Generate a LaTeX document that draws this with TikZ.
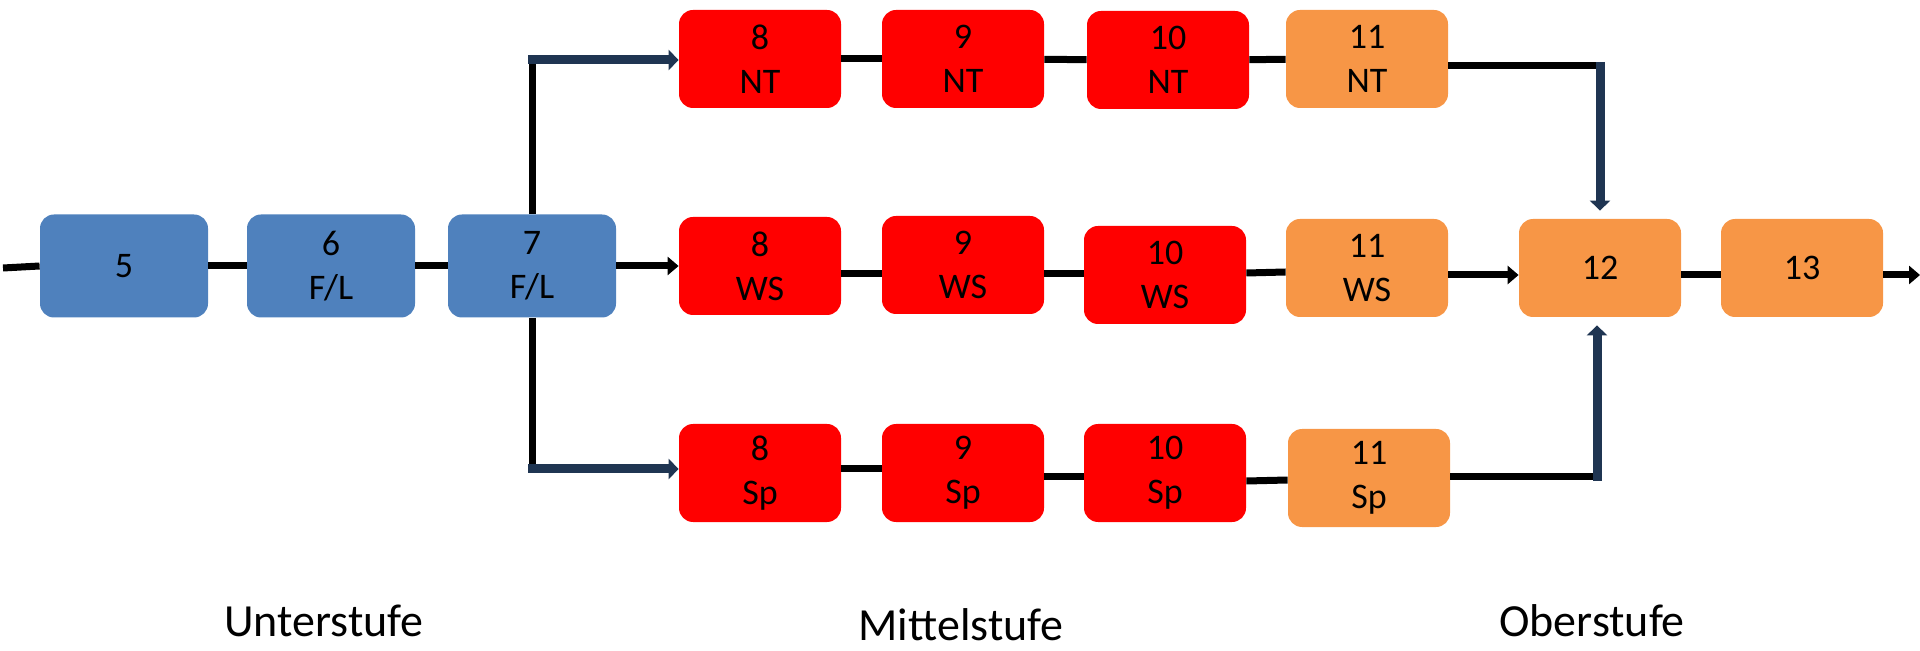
\documentclass[tikz,border=0pt]{standalone}
\usepackage{fontspec}
\setmainfont{Carlito}
\usetikzlibrary{arrows.meta,calc}
\definecolor{boxblue}{HTML}{4F81BD}
\definecolor{boxred}{HTML}{FF0000}
\definecolor{boxorange}{HTML}{F79646}
\definecolor{arrowblue}{HTML}{1F3552}
\tikzset{
  stagebox/.style={rounded corners=7pt, inner sep=0pt, align=center,
    minimum width=81pt, minimum height=49pt,
    font=\fontsize{18}{22}\selectfont, text=black},
  lowbox/.style={stagebox, fill=boxblue, minimum width=84pt, minimum height=51.5pt},
  midbox/.style={stagebox, fill=boxred},
  highbox/.style={stagebox, fill=boxorange},
  blackline/.style={draw=black, line width=3.5pt},
  blackarrow/.style={blackline, -{Triangle[length=5.5pt,width=9pt]}},
  bluearrow/.style={draw=arrowblue, line width=4.5pt, -{Triangle[length=5pt,width=10pt]}},
  levellabel/.style={font=\fontsize{23}{28}\selectfont, anchor=base, inner sep=0pt}
}
\begin{document}
\begin{tikzpicture}[x=0.5pt,y=-0.5pt]
\useasboundingbox (0,0) rectangle (1920,651);
% Unterstufe
\node[lowbox] (b5) at (124,266) {5};
\node[lowbox] (b6) at (331,266) {6\\F/L};
\node[lowbox] (b7) at (532,266) {7\\F/L};
% NT row
\node[midbox] (nt8) at (760,59) {8\\NT};
\node[midbox] (nt9) at (963,59) {9\\NT};
\node[midbox] (nt10) at (1168,60) {10\\NT};
\node[highbox] (nt11) at (1367,59) {11\\NT};
% WS row
\node[midbox] (ws8) at (760,266) {8\\WS};
\node[midbox] (ws9) at (963,265) {9\\WS};
\node[midbox] (ws10) at (1165,275) {10\\WS};
\node[highbox] (ws11) at (1367,268) {11\\WS};
\node[highbox] (b12) at (1600,268) {12};
\node[highbox] (b13) at (1802,268) {13};
% Sp row
\node[midbox] (sp8) at (760,473) {8\\Sp};
\node[midbox] (sp9) at (963,473) {9\\Sp};
\node[midbox] (sp10) at (1165,473) {10\\Sp};
\node[highbox] (sp11) at (1369,478) {11\\Sp};
% level labels
\node[levellabel] (lu) at (324,636) {Unterstufe};
\node[levellabel] (lm) at (961,640) {Mittelstufe};
\node[levellabel] (lo) at (1592,636) {Oberstufe};
% helper coordinates
\coordinate (in) at (3,268);
\coordinate (out) at (1920,275);
\coordinate (ctop) at (532,60);
\coordinate (cbot) at (532,469);
\coordinate (cnt) at (1600,66);
\coordinate (csp) at (1597,477);
% connectors
\draw[blackline] (in) -- (b5.west);
\draw[blackline] (b5) -- (b6);
\draw[blackline] (b6) -- (b7);
\draw[blackarrow] (b7.east) -- (ws8.west);
\draw[blackline] (b7.north) -- (ctop);
\draw[blackline] (b7.south) -- (cbot);
\draw[bluearrow] ([xshift=-2pt]ctop) -- (ctop -| nt8.west);
\draw[bluearrow] ([xshift=-2pt]cbot) -- (cbot -| sp8.west);
\draw[blackline] (nt8) -- (nt9);
\draw[blackline] (nt9) -- (nt10);
\draw[blackline] (nt10) -- (nt11);
\draw[blackline] (nt11.east |- cnt) -- (cnt);
\draw[bluearrow] ([yshift=2pt]cnt) -- ([yshift=4pt]b12.north);
\draw[blackline] (ws8.east |- 0,274) -- (ws9.west |- 0,274);
\draw[blackline] (ws9.east |- 0,274) -- (ws10.west |- 0,274);
\draw[blackline] (ws10.east |- 0,273) -- (ws11.west |- 0,272);
\draw[blackarrow] (ws11.east |- 0,275) -- (b12.west |- 0,275);
\draw[blackline] (b12.east |- 0,275) -- (b13.west |- 0,275);
\draw[blackarrow] (b13.east |- 0,275) -- (out);
\draw[blackline] (sp8.east |- 0,469) -- (sp9.west |- 0,469);
\draw[blackline] (sp9.east |- 0,477) -- (sp10.west |- 0,477);
\draw[blackline] (sp10.east |- 0,481) -- (sp11.west |- 0,480);
\draw[blackline] (sp11.east |- csp) -- (csp);
\draw[bluearrow] ([yshift=-2pt]csp) -- ([yshift=-4pt]csp |- b12.south);
\end{tikzpicture}
\end{document}
